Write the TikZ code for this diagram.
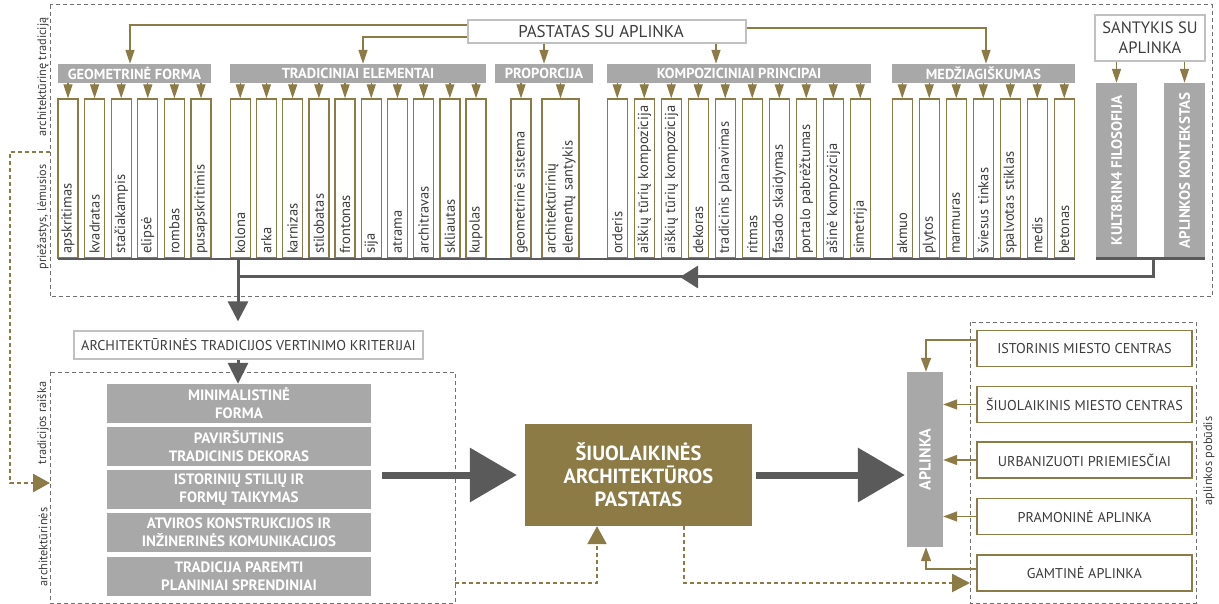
\documentclass[tikz,border=0pt]{standalone}
\usepackage{fontspec}
\setmainfont{PT Sans}
\usetikzlibrary{arrows.meta,calc}
\definecolor{oliveC}{HTML}{8C7B45}
\definecolor{barG}{HTML}{A8A8A8}
\definecolor{darkG}{HTML}{5A5A5A}
\definecolor{txt}{HTML}{3C3C3C}
\definecolor{lineG}{HTML}{C0C0C0}
\definecolor{dashG}{HTML}{707070}
\tikzset{
 smallbox/.style={draw=oliveC, line width=1.3pt, fill=white, rotate=90, minimum height=20pt, text width=151pt, inner xsep=4pt, inner ysep=0pt, align=left, font=\fontsize{14.5}{17}\selectfont, text=txt},
 bar/.style={fill=barG, text=white, font=\bfseries\fontsize{14.5}{16}\selectfont, minimum height=19pt, inner sep=0pt},
 sarr/.style={draw=oliveC, line width=1.3pt, -{Triangle[width=9pt,length=14pt]}},
 oline/.style={draw=oliveC, line width=1.5pt, -{Triangle[width=9pt,length=14pt]}},
 eline/.style={draw=oliveC, line width=1.5pt, -{Triangle[width=10pt,length=14pt]}},
 dline/.style={draw=darkG, line width=3pt},
 dotl/.style={draw=oliveC, line width=2.6pt, dash pattern=on 4pt off 3pt},
 dashbox/.style={draw=dashG, line width=1pt, dash pattern=on 4pt off 3pt},
 vbar/.style={fill=barG, text=white, rotate=90, font=\bfseries\fontsize{15}{16}\selectfont, minimum width=175pt, inner sep=0pt},
 graybox/.style={fill=barG, text=white, font=\bfseries\fontsize{15}{18}\selectfont, minimum width=264pt, minimum height=39pt, align=center, inner sep=0pt},
 whitebox/.style={draw=lineG, line width=1.3pt, fill=white, text=txt, inner sep=0pt, align=center},
 envbox/.style={draw=oliveC, line width=1.3pt, fill=white, text=txt, minimum width=215pt, minimum height=36pt, font=\fontsize{14.2}{16}\selectfont, inner sep=0pt},
 sidelab/.style={rotate=90, text=txt, font=\fontsize{12.3}{14}\selectfont, inner sep=0pt},
}
\begin{document}
\begin{tikzpicture}[x=1pt,y=-1pt]
\useasboundingbox (0,0) rectangle (1219,604);
% dashed frames
\draw[dashbox] (50,5) rectangle (1212,297);
\draw[dashbox] (50,372) rectangle (455,603);
\draw[dashbox] (970,322) rectangle (1196,603);
% side labels
\node[sidelab] (lab1) at (43,217) {priežastys, lėmusios};
\node[sidelab] (lab2) at (43,77) {architektūrinę tradiciją};
\node[sidelab] (lab3) at (43,547) {architektūrinės};
\node[sidelab] (lab4) at (43,423) {tradicijos raiška};
\node[sidelab] (lab5) at (1209,461) {aplinkos pobūdis};
% top boxes
\node[whitebox, minimum width=278pt, minimum height=23pt, font=\fontsize{17}{19}\selectfont] (pastatas) at (607,31.5) {PASTATAS SU APLINKA\hspace*{12pt}};
\node[whitebox, minimum width=110pt, minimum height=46pt, font=\fontsize{16.5}{20}\selectfont] (santykis) at (1150,38) {SANTYKIS SU\\APLINKA};
% bars
\node[bar, minimum width=153pt] (geo) at (134.5,73.5) {GEOMETRINĖ FORMA};
\node[bar, minimum width=256pt] (tra) at (358,73.5) {TRADICINIAI ELEMENTAI};
\node[bar, minimum width=98pt] (pro) at (544,73.5) {PROPORCIJA};
\node[bar, minimum width=264pt] (kom) at (739,73.5) {KOMPOZICINIAI PRINCIPAI};
\node[bar, minimum width=183pt] (med) at (983.5,73.5) {MEDŽIAGIŠKUMAS};
\node[vbar, minimum height=41pt] (kult) at (1116.5,170.5) {KULT8RIN4 FILOSOFIJA};
\node[vbar, minimum height=41pt] (aplk) at (1184.5,170.5) {APLINKOS KONTEKSTAS};
% connectors from PASTATAS
\draw[oline] (pastatas.west |- 0,25) -| ($(geo.north)+(-4.5,0)$);
\draw[oline] (pastatas.west |- 0,37) -| ($(tra.north)+(5,0)$);
\draw[oline] (pastatas.south -| pro.north) -- (pro.north);
\draw[oline] ($(pastatas.south)+(109,0)$) -- ($(kom.north)+(-23,0)$);
\draw[oline] (pastatas.east |- 0,28) -| ($(med.north)+(2.5,0)$);
\draw[oline] (santykis.south -| kult.east) -- (kult.east);
\draw[oline] (santykis.south -| aplk.east) -- (aplk.east);
% small boxes
\foreach \n/\x/\t in {ge1/68/apskritimas, ge2/94.6/kvadratas, ge3/121.2/stačiakampis, ge4/147.8/elipsė, ge5/174.4/rombas, ge6/201/pusapskritimis}{
 \node[smallbox] (\n) at (\x,178.5) {\t};
 \draw[sarr] (geo.south -| \n.east) -- (\n.east);
}
\foreach \n/\x/\t in {tr1/240.25/kolona, tr2/266.45/arka, tr3/292.65/karnizas, tr4/318.85/stilobatas, tr5/345.05/frontonas, tr6/371.25/sija, tr7/397.45/atrama, tr8/423.65/architravas, tr9/449.85/skliautas, tr10/476.05/kupolas}{
 \node[smallbox] (\n) at (\x,178.5) {\t};
 \draw[sarr] (tra.south -| \n.east) -- (\n.east);
}
\node[smallbox] (pr1) at (521,178.5) {geometrinė sistema};
\node[smallbox, minimum height=37pt] (pr2) at (560.5,178.5) {architektūrinių\\elementų santykis};
\draw[sarr] (pro.south -| pr1.east) -- (pr1.east);
\draw[sarr] (pro.south -| pr2.east) -- (pr2.east);
\foreach \n/\x/\t in {ko1/617.25/orderis, ko2/644.25/aiškių tūrių kompozicija, ko3/671.25/aiškių tūrių kompozicija, ko4/698.25/dekoras, ko5/725.25/tradicinis planavimas, ko6/752.25/ritmas, ko7/779.25/fasado skaidymas, ko8/806.25/portalo pabrėžtumas, ko9/833.25/ašinė kompozicija, ko10/860.25/simetrija}{
 \node[smallbox] (\n) at (\x,178.5) {\t};
 \draw[sarr] (kom.south -| \n.east) -- (\n.east);
}
\foreach \n/\x/\t in {me1/902.25/akmuo, me2/929.25/plytos, me3/956.25/marmuras, me4/983.25/šviesus tinkas, me5/1010.25/spalvotas stiklas, me6/1037.25/medis, me7/1064.25/betonas}{
 \node[smallbox] (\n) at (\x,178.5) {\t};
 \draw[sarr] (med.south -| \n.east) -- (\n.east);
}
% bus lines
\coordinate (busStart) at (58,259);
\coordinate (busEnd) at (1075,259);
\coordinate (busR1) at (1096,259);
\coordinate (busR2) at (1205,259);
\draw[darkG, line width=2.5pt] (busStart) -- (busEnd);
\draw[darkG, line width=3pt] (busR1) -- (busR2);
\coordinate (busL) at (238,259);
\coordinate (busR) at (1153,259);
\coordinate (turn) at (1153,277);
\coordinate (midA) at (700,277);
\coordinate (midB) at (680,277);
\coordinate (turnL) at (238,277);
\draw[dline] (busR) -- (turn) -- (turnL);
\draw[dline, -{Triangle[width=22pt,length=18pt]}] (midA) -- (midB);
% criteria
\node[whitebox, minimum width=349pt, minimum height=28pt, font=\fontsize{14.2}{16}\selectfont] (krit) at (248.5,345) {ARCHITEKTŪRINĖS TRADICIJOS VERTINIMO KRITERIJAI};
\draw[dline, -{Triangle[width=20pt,length=20pt]}, shorten >=9pt] (busL) -- (krit.north -| busL);
% gray boxes
\node[graybox] (lb1) at (239,403.5) {MINIMALISTINĖ\\FORMA};
\node[graybox] (lb2) at (239,446.5) {PAVIRŠUTINIS\\TRADICINIS DEKORAS};
\node[graybox] (lb3) at (239,489.5) {ISTORINIŲ STILIŲ IR\\FORMŲ TAIKYMAS};
\node[graybox] (lb4) at (239,532) {ATVIROS KONSTRUKCIJOS IR\\INŽINERINĖS KOMUNIKACIJOS};
\node[graybox] (lb5) at (239,576) {TRADICIJA PAREMTI\\PLANINIAI SPRENDINIAI};
\draw[dline, -{Triangle[width=20pt,length=21pt]}] (krit.south -| busL) -- (lb1.north -| busL);
% central box
\node[fill=oliveC, text=white, minimum width=227pt, minimum height=102pt, align=center, inner sep=0pt, font=\bfseries\fontsize{20.5}{23}\selectfont] (ob) at (638.5,475) {ŠIUOLAIKINĖS\\ARCHITEKTŪROS\\PASTATAS};
\draw[darkG, line width=7pt, -{Triangle[width=53pt,length=47pt]}] ($(ob.west -| lb3.east)+(11,0)$) -- ($(ob.west)+(-8,0)$);
% aplinka
\node[vbar, minimum height=36pt, font=\bfseries\fontsize{16}{17}\selectfont] (apl) at (925,459.5) {APLINKA};
\draw[darkG, line width=7pt, -{Triangle[width=53pt,length=47pt]}] ($(ob.east)+(4,0)$) -- ($(ob.east -| apl.north)+(-2,0)$);
% environment boxes
\node[envbox] (e1) at (1084.5,348.5) {ISTORINIS MIESTO CENTRAS};
\node[envbox] (e2) at (1084.5,404.5) {ŠIUOLAIKINIS MIESTO CENTRAS};
\node[envbox] (e3) at (1084.5,460) {URBANIZUOTI PRIEMIESČIAI};
\node[envbox] (e4) at (1084.5,516.5) {PRAMONINĖ APLINKA};
\node[envbox] (e5) at (1084.5,573) {GAMTINĖ APLINKA};
\draw[eline] ($(e1.west)+(0,-8.5)$) -| ($(apl.east)+(1,0)$);
\draw[eline] (e2.west) -- (e2.west -| apl.south);
\draw[eline] (e3.west) -- (e3.west -| apl.south);
\draw[eline] (e4.west) -- (e4.west -| apl.south);
\draw[eline] ($(e5.west)+(0,-4)$) -| ($(apl.west)+(1,0)$);
% dotted olive connectors
\coordinate (dA) at (50,152);
\coordinate (dB) at (10,483);
\coordinate (dC) at (50,483);
\draw[dotl, -{Triangle[width=18pt,length=17pt]}] (dA) -| (dB) -- (dC);
\coordinate (dD) at (455,583);
\draw[dotl, -{Triangle[width=19pt,length=18pt]}] (dD) -| ($(ob.south)+(-41.5,0)$);
\coordinate (dE) at (970,583);
\draw[dotl, -{Triangle[width=18pt,length=18pt]}] ($(ob.south)+(45.5,0)$) |- (dE);
\end{tikzpicture}
\end{document}
